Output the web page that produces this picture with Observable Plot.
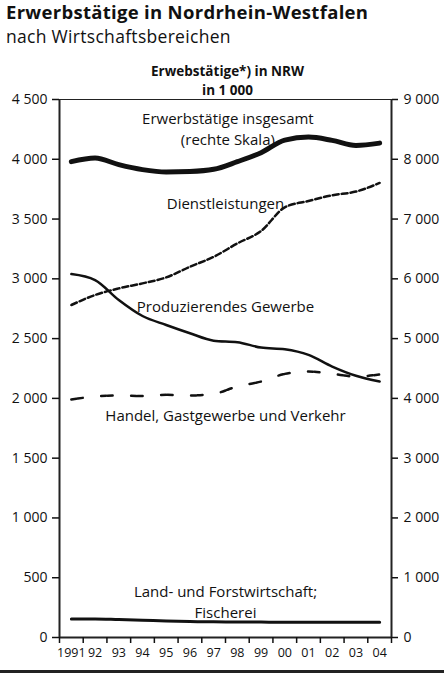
<!DOCTYPE html>
<html>
<head>
<meta charset="utf-8">
<script src="https://cdn.jsdelivr.net/npm/d3@7"></script>
<script src="https://cdn.jsdelivr.net/npm/@observablehq/plot@0.6"></script>
<style>
  html, body { margin: 0; padding: 0; background: #fff; }
  body { width: 444px; height: 674px; overflow: hidden; font-family: "Open Sans", sans-serif; color: #111; }
  #head { height: 50px; padding-left: 6px; box-sizing: border-box; }
  #title { font-size: 18.5px; font-weight: bold; line-height: 25px; margin-top: -1px; letter-spacing: 0.3px; }
  #subtitle { font-size: 17.5px; line-height: 24px; letter-spacing: 0.3px; }
  #chart svg { display: block; }
  #rule { height: 2.5px; background: #222; }
</style>
</head>
<body>
<div id="head">
  <div id="title">Erwerbstätige in Nordrhein-Westfalen</div>
  <div id="subtitle">nach Wirtschaftsbereichen</div>
</div>
<div id="chart"></div>
<div id="rule"></div>
<script>
// ---- data (in 1 000) ----
const years = [1991, 1992, 1993, 1994, 1995, 1996, 1997, 1998, 1999, 2000, 2001, 2002, 2003, 2004];
const yearLabels = ["1991", "92", "93", "94", "95", "96", "97", "98", "99", "00", "01", "02", "03", "04"];
const insgesamt = [7960, 8020, 7910, 7827, 7787, 7795, 7832, 7960, 8110, 8320, 8371, 8316, 8232, 8270]; // rechte Skala
const dienstleistungen = [2781, 2865, 2920, 2962, 3012, 3101, 3184, 3296, 3400, 3598, 3651, 3699, 3730, 3802];
const produzierendes = [3040, 2990, 2823, 2689, 2614, 2545, 2483, 2470, 2425, 2411, 2364, 2266, 2189, 2141];
const handel = [1990, 2016, 2024, 2020, 2030, 2024, 2038, 2100, 2141, 2205, 2225, 2205, 2183, 2200];
const landwirtschaft = [155, 155, 150, 145, 138, 133, 131, 130, 129, 128, 128, 127, 127, 127];

const yTicks = [0, 500, 1000, 1500, 2000, 2500, 3000, 3500, 4000, 4500];
const xBounds = [1990.5, 1991.5, 1992.5, 1993.5, 1994.5, 1995.5, 1996.5, 1997.5, 1998.5, 1999.5, 2000.5, 2001.5, 2002.5, 2003.5, 2004.5];

const chartTitle = "Erwebstätige*) in NRW\nin 1 000";
const labelTexts = ["Erwerbstätige insgesamt\n(rechte Skala)", "Dienstleistungen", "Produzierendes Gewerbe", "Handel, Gastgewerbe und Verkehr", "Land- und Forstwirtschaft;\nFischerei"];
const labelYears = [1997.6, 1997.5, 1997.5, 1997.5, 1997.5];
const labelValues = [4262, 3643, 2781, 1863, 307];

// ---- build tables ----
const rows = arr => years.map((year, i) => ({year, value: arr[i]}));
const labels = labelTexts.map((text, i) => ({text, year: labelYears[i], value: labelValues[i]}));

const fmtLocale = d3.formatLocale({decimal: ",", thousands: " ", grouping: [3], currency: ["", " €"]});
const fmt = fmtLocale.format(",d");

const plot = Plot.plot({
  width: 444,
  height: 621,
  marginLeft: 59,
  marginRight: 53,
  marginTop: 50,
  marginBottom: 33,
  x: {domain: [xBounds[0], xBounds[xBounds.length - 1]], label: null},
  y: {domain: [yTicks[0], yTicks[yTicks.length - 1]], label: null},
  style: {fontFamily: "Open Sans", fontSize: "14px", color: "#111", background: "white", overflow: "visible"},
  marks: [
    Plot.ruleY([yTicks[yTicks.length - 1]], {stroke: "#222", strokeWidth: 1}),
    Plot.ruleX([xBounds[0], xBounds[xBounds.length - 1]], {stroke: "#222", strokeWidth: 2}),
    Plot.ruleY([0], {stroke: "#222", strokeWidth: 2}),
    Plot.axisY({anchor: "left", ticks: yTicks, tickSize: 7, tickPadding: 5, tickFormat: fmt, label: null, strokeWidth: 1.5, fontSize: 14}),
    Plot.axisY({anchor: "right", ticks: yTicks, tickSize: 6, tickPadding: 6, tickFormat: d => fmt(d * 2), label: null, strokeWidth: 1.5, fontSize: 14}),
    Plot.axisX({ticks: xBounds, tickSize: 6, tickFormat: () => "", label: null, strokeWidth: 1.5}),
    Plot.axisX({ticks: years, tickSize: 0, tickPadding: 11, tickFormat: d => yearLabels[years.indexOf(d)], label: null, fontSize: 12.5}),
    Plot.text([chartTitle], {frameAnchor: "top", text: d => d, dy: -20, dx: 2, lineAnchor: "middle", lineHeight: 1.38, fontWeight: "bold", fontSize: 13.5, letterSpacing: 0.4, fill: "#111"}),
    Plot.lineY(rows(landwirtschaft), {x: "year", y: "value", stroke: "#111", strokeWidth: 3, curve: "monotone-x"}),
    Plot.lineY(rows(handel), {x: "year", y: "value", stroke: "#111", strokeWidth: 2.5, strokeDasharray: "5,1.5,5,18.5", curve: "monotone-x"}),
    Plot.lineY(rows(produzierendes), {x: "year", y: "value", stroke: "#111", strokeWidth: 2.5, curve: "monotone-x"}),
    Plot.lineY(rows(dienstleistungen), {x: "year", y: "value", stroke: "#111", strokeWidth: 2.5, strokeDasharray: "6,3", curve: "monotone-x"}),
    Plot.lineY(rows(insgesamt), {x: "year", y: d => d.value / 2, stroke: "#111", strokeWidth: 5, curve: "monotone-x"}),
    Plot.text(labels, {x: "year", y: "value", text: "text", fontSize: 15, lineHeight: 1.37, fill: "#111"})
  ]
});
document.getElementById("chart").appendChild(plot);
</script>
</body>
</html>
